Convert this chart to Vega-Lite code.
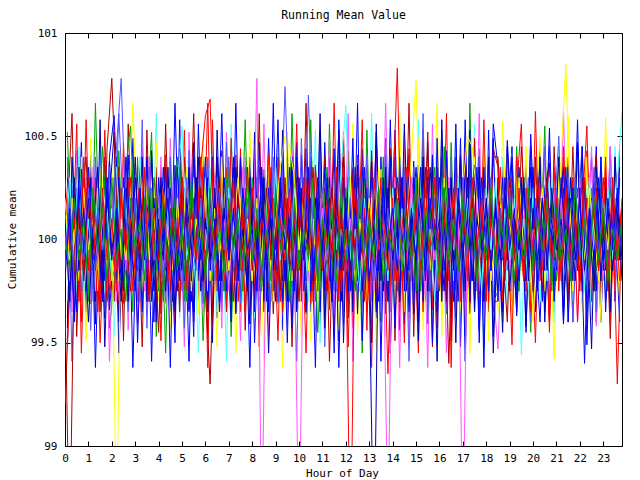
{
"$schema": "https://vega.github.io/schema/vega-lite/v6.json",
"width": 557, "height": 413,
"autosize": {"type": "none"},
"padding": {"left": 65, "top": 33, "right": 18, "bottom": 34},
"background": "white",
"config": {
 "view": {"stroke": "black", "strokeWidth": 1},
 "font": "DejaVu Sans Mono",
 "axis": {"domain": false, "grid": false, "tickColor": "black", "tickWidth": 1, "tickSize": -5, "labelColor": "black", "labelFont": "DejaVu Sans Mono", "labelFontSize": 11, "labelFlush": false, "labelOverlap": false, "titleFont": "DejaVu Sans Mono", "titleFontSize": 11, "titleFontWeight": "normal", "titleColor": "black"}
},
"title": {"text": "Running Mean Value", "font": "DejaVu Sans Mono", "fontSize": 11.5, "fontWeight": "normal", "color": "black", "offset": 6},
"datasets": {
"one": [
{"t":0,"a":99.2,"b":100.05,"c":99.9,"d":100.12,"e":99.95,"f":100.2,"g":99.7,"h":100.1,"i":99.85,"j":100.3,"k":99.8,"l":100.0},
{"t":0.2,"a":99.75,"b":100.25,"c":100.1,"d":99.8,"e":100.3,"f":99.9,"g":98.5,"h":99.7,"i":100.2,"j":99.95,"k":100.15,"l":99.85},
{"t":0.4,"a":100.1,"b":99.85,"c":99.65,"d":100.2,"e":99.9,"f":100.05,"g":99.95,"h":100.3,"i":99.75,"j":100.1,"k":99.6,"l":100.2},
{"t":0.6,"a":99.9,"b":100.4,"c":100.25,"d":99.95,"e":100.45,"f":99.8,"g":100.15,"h":99.85,"i":100.05,"j":99.7,"k":100.35,"l":99.9},
{"t":0.8,"a":100.3,"b":100.1,"c":99.8,"d":100.05,"e":99.7,"f":100.25,"g":99.8,"h":100.15,"i":99.9,"j":100.4,"k":99.95,"l":100.1},
{"t":1.0,"a":99.85,"b":99.7,"c":100.35,"d":99.75,"e":100.1,"f":99.95,"g":100.3,"h":99.6,"i":100.25,"j":99.85,"k":100.2,"l":99.75},
{"t":1.2,"a":100.2,"b":100.3,"c":99.95,"d":100.35,"e":99.85,"f":100.1,"g":99.9,"h":100.05,"i":99.7,"j":100.15,"k":99.85,"l":100.25},
{"t":1.4,"a":99.95,"b":99.9,"c":100.15,"d":99.85,"e":100.25,"f":99.75,"g":100.1,"h":100.35,"i":100.15,"j":99.65,"k":100.05,"l":99.95},
{"t":1.6,"a":100.15,"b":100.45,"c":99.7,"d":100.1,"e":99.95,"f":100.3,"g":99.75,"h":99.8,"i":99.95,"j":100.25,"k":99.7,"l":100.15},
{"t":1.8,"a":99.7,"b":100.05,"c":100.25,"d":99.9,"e":100.15,"f":99.85,"g":100.45,"h":100.2,"i":100.3,"j":99.9,"k":100.3,"l":99.8},
{"t":2.0,"a":100.05,"b":99.8,"c":99.9,"d":100.25,"e":99.8,"f":100.15,"g":100.78,"h":99.95,"i":100.05,"j":100.1,"k":99.9,"l":100.3},
{"t":2.2,"a":99.85,"b":100.2,"c":100.4,"d":99.7,"e":100.35,"f":98.6,"g":100.2,"h":100.1,"i":100.45,"j":99.75,"k":100.15,"l":99.9},
{"t":2.4,"a":100.25,"b":99.95,"c":99.75,"d":100.15,"e":99.9,"f":100.1,"g":99.85,"h":99.7,"i":100.78,"j":100.2,"k":99.8,"l":100.05},
{"t":2.6,"a":99.9,"b":100.35,"c":100.1,"d":99.85,"e":100.2,"f":99.9,"g":100.05,"h":100.25,"i":100.1,"j":99.95,"k":100.4,"l":99.7},
{"t":2.8,"a":100.1,"b":100.55,"c":99.85,"d":100.3,"e":99.75,"f":100.25,"g":99.75,"h":99.9,"i":99.85,"j":100.3,"k":100.0,"l":100.2},
{"t":3.0,"a":99.8,"b":100.0,"c":100.3,"d":99.95,"e":100.05,"f":99.8,"g":100.15,"h":100.4,"i":100.2,"j":99.8,"k":99.75,"l":99.95},
{"t":3.2,"a":100.35,"b":99.75,"c":99.95,"d":100.05,"e":100.4,"f":100.05,"g":99.9,"h":99.8,"i":99.7,"j":100.05,"k":100.25,"l":100.1},
{"t":3.4,"a":99.95,"b":100.2,"c":100.05,"d":99.75,"e":99.85,"f":100.35,"g":100.35,"h":100.05,"i":100.0,"j":100.35,"k":99.9,"l":99.8},
{"t":3.6,"a":100.15,"b":99.9,"c":99.7,"d":100.4,"e":100.1,"f":99.9,"g":99.7,"h":100.2,"i":100.35,"j":99.7,"k":100.1,"l":100.25},
{"t":3.8,"a":99.75,"b":100.3,"c":100.2,"d":99.9,"e":99.7,"f":100.15,"g":100.05,"h":99.75,"i":99.9,"j":100.15,"k":99.6,"l":100.0},
{"t":4.0,"a":100.05,"b":100.05,"c":99.85,"d":100.2,"e":100.3,"f":99.7,"g":99.55,"h":100.1,"i":100.15,"j":99.9,"k":100.3,"l":99.75},
{"t":4.2,"a":99.9,"b":99.7,"c":100.35,"d":99.85,"e":99.95,"f":100.25,"g":100.2,"h":99.9,"i":99.8,"j":100.25,"k":99.95,"l":100.2},
{"t":4.4,"a":100.3,"b":100.15,"c":99.9,"d":100.1,"e":100.15,"f":100.0,"g":99.85,"h":100.35,"i":100.25,"j":99.8,"k":100.2,"l":99.9},
{"t":4.6,"a":99.85,"b":99.95,"c":100.15,"d":99.7,"e":99.8,"f":99.85,"g":100.1,"h":99.7,"i":99.95,"j":100.1,"k":99.75,"l":100.15},
{"t":4.8,"a":100.1,"b":100.4,"c":99.75,"d":100.3,"e":100.25,"f":100.2,"g":99.95,"h":100.05,"i":100.1,"j":99.95,"k":100.35,"l":99.85},
{"t":5.0,"a":99.95,"b":100.1,"c":100.25,"d":99.95,"e":100.55,"f":99.9,"g":100.3,"h":99.85,"i":99.75,"j":100.3,"k":99.9,"l":100.05},
{"t":5.2,"a":100.25,"b":99.8,"c":100.0,"d":100.15,"e":99.9,"f":100.35,"g":99.8,"h":100.2,"i":100.3,"j":99.75,"k":100.15,"l":99.7},
{"t":5.4,"a":99.8,"b":100.25,"c":99.7,"d":99.85,"e":100.1,"f":99.75,"g":100.15,"h":99.95,"i":100.0,"j":100.15,"k":99.8,"l":100.3},
{"t":5.6,"a":100.05,"b":99.95,"c":100.3,"d":100.25,"e":99.75,"f":100.1,"g":99.9,"h":100.3,"i":99.85,"j":99.9,"k":100.25,"l":99.95},
{"t":5.8,"a":100.35,"b":100.15,"c":99.9,"d":99.8,"e":100.2,"f":99.95,"g":100.25,"h":99.75,"i":100.2,"j":100.4,"k":99.95,"l":100.1},
{"t":6.0,"a":100.6,"b":99.85,"c":100.1,"d":100.05,"e":99.95,"f":100.3,"g":99.75,"h":100.1,"i":99.9,"j":99.85,"k":100.4,"l":99.8},
{"t":6.2,"a":100.68,"b":100.3,"c":99.8,"d":99.9,"e":100.35,"f":99.8,"g":99.3,"h":99.9,"i":100.15,"j":100.1,"k":99.85,"l":100.25},
{"t":6.4,"a":99.9,"b":99.95,"c":100.2,"d":100.3,"e":99.85,"f":100.15,"g":100.05,"h":100.25,"i":99.8,"j":99.95,"k":100.1,"l":99.9},
{"t":6.6,"a":100.15,"b":100.1,"c":99.65,"d":99.95,"e":100.05,"f":99.9,"g":100.3,"h":99.8,"i":100.25,"j":100.2,"k":99.7,"l":100.05},
{"t":6.8,"a":99.75,"b":99.75,"c":100.15,"d":100.1,"e":99.8,"f":100.25,"g":99.9,"h":100.15,"i":99.95,"j":99.8,"k":100.3,"l":99.85},
{"t":7.0,"a":100.2,"b":100.35,"c":99.95,"d":99.75,"e":100.25,"f":99.85,"g":100.15,"h":99.9,"i":100.4,"j":100.05,"k":99.9,"l":100.2},
{"t":7.2,"a":99.95,"b":100.05,"c":100.4,"d":100.2,"e":99.9,"f":100.05,"g":99.7,"h":100.35,"i":99.85,"j":100.3,"k":100.15,"l":99.95},
{"t":7.4,"a":100.1,"b":99.8,"c":99.85,"d":99.9,"e":100.15,"f":100.3,"g":100.2,"h":99.85,"i":100.1,"j":99.7,"k":99.8,"l":100.1},
{"t":7.6,"a":99.85,"b":100.2,"c":100.05,"d":100.35,"e":99.7,"f":99.95,"g":99.95,"h":100.05,"i":99.75,"j":100.15,"k":100.25,"l":99.75},
{"t":7.8,"a":100.3,"b":99.9,"c":99.75,"d":100.0,"e":100.3,"f":100.1,"g":100.35,"h":99.75,"i":100.2,"j":99.9,"k":99.95,"l":100.3},
{"t":8.0,"a":99.9,"b":100.3,"c":100.25,"d":99.8,"e":99.95,"f":99.8,"g":99.85,"h":100.2,"i":99.95,"j":100.25,"k":100.05,"l":99.9},
{"t":8.2,"a":100.15,"b":100.0,"c":99.9,"d":100.78,"e":100.1,"f":100.2,"g":100.1,"h":99.95,"i":100.3,"j":99.85,"k":99.75,"l":100.15},
{"t":8.4,"a":99.8,"b":99.75,"c":100.15,"d":98.5,"e":99.85,"f":99.9,"g":99.8,"h":100.3,"i":99.8,"j":100.1,"k":100.35,"l":99.85},
{"t":8.6,"a":100.25,"b":100.15,"c":99.7,"d":100.05,"e":100.2,"f":100.25,"g":100.25,"h":99.85,"i":100.05,"j":99.95,"k":99.9,"l":100.05},
{"t":8.8,"a":99.95,"b":99.85,"c":100.3,"d":100.2,"e":99.75,"f":99.85,"g":99.9,"h":100.1,"i":99.7,"j":100.35,"k":100.2,"l":99.8},
{"t":9.0,"a":100.05,"b":100.25,"c":99.95,"d":99.85,"e":100.35,"f":100.1,"g":100.15,"h":99.7,"i":100.25,"j":99.75,"k":99.85,"l":100.25},
{"t":9.2,"a":99.7,"b":99.95,"c":100.1,"d":100.15,"e":99.9,"f":100.35,"g":99.75,"h":100.25,"i":100.0,"j":100.1,"k":100.3,"l":99.95},
{"t":9.4,"a":100.2,"b":100.1,"c":99.8,"d":99.9,"e":100.05,"f":100.5,"g":100.3,"h":99.95,"i":100.74,"j":99.9,"k":99.95,"l":100.1},
{"t":9.6,"a":99.9,"b":99.7,"c":100.35,"d":100.25,"e":99.8,"f":100.45,"g":99.85,"h":100.15,"i":100.1,"j":100.25,"k":100.1,"l":99.7},
{"t":9.8,"a":100.1,"b":100.3,"c":99.9,"d":99.95,"e":100.25,"f":100.3,"g":100.05,"h":99.8,"i":99.85,"j":99.8,"k":99.75,"l":100.2},
{"t":10.0,"a":99.85,"b":99.9,"c":100.2,"d":98.5,"e":99.95,"f":99.95,"g":99.7,"h":100.3,"i":100.2,"j":100.15,"k":100.25,"l":99.85},
{"t":10.2,"a":100.3,"b":100.15,"c":99.75,"d":100.1,"e":100.15,"f":100.2,"g":100.2,"h":99.9,"i":99.95,"j":99.95,"k":99.9,"l":100.05},
{"t":10.4,"a":99.95,"b":99.8,"c":100.05,"d":99.8,"e":99.7,"f":99.85,"g":99.95,"h":100.05,"i":100.7,"j":100.3,"k":100.35,"l":99.9},
{"t":10.6,"a":100.15,"b":100.2,"c":99.85,"d":100.3,"e":100.3,"f":100.1,"g":100.35,"h":99.75,"i":100.0,"j":99.7,"k":99.8,"l":100.3},
{"t":10.8,"a":99.75,"b":99.55,"c":100.3,"d":99.9,"e":99.85,"f":99.7,"g":99.8,"h":100.2,"i":99.8,"j":100.1,"k":100.15,"l":99.75},
{"t":11.0,"a":100.05,"b":100.05,"c":99.95,"d":100.15,"e":100.1,"f":100.25,"g":100.1,"h":99.85,"i":100.25,"j":99.85,"k":99.95,"l":100.1},
{"t":11.2,"a":99.9,"b":100.35,"c":100.15,"d":99.75,"e":99.8,"f":99.9,"g":99.75,"h":100.1,"i":99.9,"j":100.2,"k":100.3,"l":99.95},
{"t":11.4,"a":100.25,"b":99.85,"c":99.7,"d":100.05,"e":100.2,"f":100.15,"g":100.25,"h":99.95,"i":100.15,"j":99.9,"k":99.7,"l":100.15},
{"t":11.6,"a":99.8,"b":100.1,"c":100.25,"d":99.95,"e":99.95,"f":99.8,"g":99.9,"h":100.3,"i":99.75,"j":100.35,"k":100.1,"l":99.8},
{"t":11.8,"a":100.1,"b":99.75,"c":99.9,"d":100.25,"e":100.35,"f":100.05,"g":100.15,"h":99.7,"i":100.05,"j":99.75,"k":99.85,"l":100.25},
{"t":12.0,"a":99.95,"b":100.25,"c":100.1,"d":99.8,"e":100.65,"f":99.95,"g":99.8,"h":100.15,"i":99.9,"j":100.05,"k":100.2,"l":99.9},
{"t":12.2,"a":98.4,"b":99.9,"c":99.8,"d":100.1,"e":99.9,"f":100.3,"g":100.05,"h":99.85,"i":100.2,"j":99.8,"k":99.75,"l":100.05},
{"t":12.4,"a":100.2,"b":100.15,"c":100.35,"d":99.85,"e":100.05,"f":99.75,"g":99.95,"h":100.2,"i":99.85,"j":100.25,"k":100.15,"l":99.75},
{"t":12.6,"a":99.85,"b":99.8,"c":99.75,"d":100.2,"e":99.75,"f":100.1,"g":100.3,"h":99.9,"i":100.3,"j":99.9,"k":99.9,"l":100.2},
{"t":12.8,"a":100.05,"b":100.3,"c":100.2,"d":99.9,"e":100.2,"f":99.85,"g":99.7,"h":100.05,"i":99.95,"j":100.15,"k":100.35,"l":99.85},
{"t":13.0,"a":99.75,"b":99.95,"c":99.9,"d":100.15,"e":99.85,"f":100.2,"g":100.15,"h":99.8,"i":100.1,"j":99.7,"k":99.8,"l":100.1},
{"t":13.2,"a":100.3,"b":100.1,"c":100.15,"d":99.75,"e":100.3,"f":99.9,"g":99.85,"h":98.4,"i":99.8,"j":100.3,"k":100.05,"l":99.9},
{"t":13.4,"a":99.9,"b":99.85,"c":99.85,"d":100.05,"e":99.95,"f":100.35,"g":100.25,"h":100.1,"i":100.25,"j":99.95,"k":99.7,"l":100.25},
{"t":13.6,"a":100.15,"b":100.4,"c":100.3,"d":99.95,"e":100.1,"f":99.8,"g":99.9,"h":99.75,"i":99.9,"j":100.1,"k":100.25,"l":99.8},
{"t":13.8,"a":99.35,"b":99.7,"c":99.7,"d":98.6,"e":99.8,"f":100.1,"g":100.1,"h":100.25,"i":100.15,"j":99.85,"k":99.95,"l":100.05},
{"t":14.0,"a":100.2,"b":100.05,"c":100.1,"d":100.2,"e":100.25,"f":99.95,"g":99.75,"h":99.9,"i":99.75,"j":100.2,"k":100.15,"l":99.95},
{"t":14.2,"a":100.83,"b":99.8,"c":99.95,"d":99.85,"e":99.9,"f":100.25,"g":100.3,"h":100.05,"i":100.2,"j":99.75,"k":99.85,"l":100.2},
{"t":14.4,"a":99.8,"b":100.25,"c":100.25,"d":100.1,"e":100.15,"f":99.85,"g":99.95,"h":100.3,"i":99.95,"j":100.05,"k":100.3,"l":99.85},
{"t":14.6,"a":100.1,"b":99.95,"c":99.8,"d":99.8,"e":99.75,"f":100.1,"g":100.15,"h":99.8,"i":100.1,"j":100.35,"k":99.75,"l":100.1},
{"t":14.8,"a":99.9,"b":100.15,"c":100.05,"d":100.3,"e":100.2,"f":100.4,"g":99.8,"h":100.15,"i":99.8,"j":99.9,"k":100.1,"l":99.9},
{"t":15.0,"a":100.25,"b":99.75,"c":100.35,"d":99.95,"e":99.95,"f":100.77,"g":100.2,"h":99.9,"i":100.3,"j":100.15,"k":99.9,"l":100.3},
{"t":15.2,"a":99.85,"b":100.3,"c":99.9,"d":100.15,"e":100.3,"f":99.9,"g":99.9,"h":100.2,"i":99.9,"j":99.8,"k":100.35,"l":99.75},
{"t":15.4,"a":100.05,"b":99.9,"c":100.1,"d":99.7,"e":99.85,"f":100.2,"g":100.35,"h":99.85,"i":100.15,"j":100.25,"k":99.8,"l":100.15},
{"t":15.6,"a":99.75,"b":100.1,"c":99.75,"d":100.25,"e":100.05,"f":99.85,"g":99.75,"h":100.35,"i":99.75,"j":99.95,"k":100.2,"l":99.95},
{"t":15.8,"a":100.3,"b":100.35,"c":100.2,"d":99.9,"e":99.7,"f":100.15,"g":100.1,"h":99.95,"i":100.2,"j":100.3,"k":99.95,"l":100.05},
{"t":16.0,"a":99.95,"b":99.8,"c":99.85,"d":100.1,"e":100.25,"f":99.75,"g":99.85,"h":100.1,"i":99.85,"j":99.75,"k":100.3,"l":99.8},
{"t":16.2,"a":100.15,"b":100.45,"c":100.3,"d":99.85,"e":99.9,"f":100.3,"g":100.25,"h":99.75,"i":100.25,"j":100.1,"k":99.85,"l":100.25},
{"t":16.4,"a":99.8,"b":99.95,"c":99.95,"d":100.3,"e":100.15,"f":99.9,"g":99.4,"h":100.25,"i":99.95,"j":99.9,"k":100.15,"l":99.9},
{"t":16.6,"a":100.2,"b":100.2,"c":100.15,"d":99.95,"e":99.8,"f":100.1,"g":100.15,"h":99.85,"i":100.1,"j":100.25,"k":99.7,"l":100.1},
{"t":16.8,"a":99.9,"b":99.75,"c":99.7,"d":100.15,"e":100.3,"f":99.85,"g":99.8,"h":100.15,"i":99.8,"j":99.85,"k":100.25,"l":99.85},
{"t":17.0,"a":100.1,"b":100.1,"c":100.25,"d":98.5,"e":99.95,"f":100.25,"g":100.3,"h":99.9,"i":100.3,"j":100.15,"k":99.95,"l":100.2},
{"t":17.2,"a":99.85,"b":99.9,"c":99.9,"d":100.1,"e":100.2,"f":100.5,"g":99.95,"h":100.3,"i":99.9,"j":99.8,"k":100.1,"l":99.95},
{"t":17.4,"a":100.25,"b":100.25,"c":100.1,"d":99.85,"e":99.85,"f":100.45,"g":100.2,"h":99.8,"i":100.15,"j":100.3,"k":99.8,"l":100.15},
{"t":17.6,"a":99.95,"b":99.85,"c":99.8,"d":100.2,"e":100.1,"f":100.2,"g":99.85,"h":100.1,"i":99.75,"j":99.95,"k":100.35,"l":99.8},
{"t":17.8,"a":100.1,"b":100.15,"c":100.3,"d":99.9,"e":99.75,"f":99.9,"g":100.1,"h":99.95,"i":100.2,"j":100.2,"k":99.9,"l":100.05},
{"t":18.0,"a":99.7,"b":99.95,"c":99.95,"d":100.25,"e":100.25,"f":100.15,"g":99.75,"h":100.2,"i":99.95,"j":99.75,"k":100.15,"l":99.9},
{"t":18.2,"a":100.2,"b":100.3,"c":100.2,"d":99.8,"e":99.95,"f":99.8,"g":100.25,"h":99.85,"i":100.3,"j":100.1,"k":99.85,"l":100.25},
{"t":18.4,"a":99.9,"b":99.8,"c":99.75,"d":100.1,"e":100.3,"f":100.05,"g":99.9,"h":100.15,"i":99.85,"j":99.9,"k":100.2,"l":99.85},
{"t":18.6,"a":100.15,"b":100.05,"c":100.25,"d":99.95,"e":99.8,"f":100.25,"g":100.15,"h":99.9,"i":100.15,"j":100.35,"k":99.75,"l":100.1},
{"t":18.8,"a":99.85,"b":100.2,"c":99.9,"d":100.3,"e":100.15,"f":99.9,"g":99.8,"h":100.25,"i":99.9,"j":99.85,"k":100.3,"l":99.95},
{"t":19.0,"a":100.3,"b":99.9,"c":100.1,"d":99.85,"e":99.9,"f":100.1,"g":100.3,"h":99.75,"i":100.25,"j":100.15,"k":99.95,"l":100.2},
{"t":19.2,"a":99.95,"b":100.15,"c":99.8,"d":100.15,"e":100.2,"f":99.85,"g":99.9,"h":100.1,"i":99.8,"j":99.9,"k":100.15,"l":99.8},
{"t":19.4,"a":100.05,"b":99.75,"c":100.35,"d":99.9,"e":99.85,"f":100.3,"g":100.1,"h":99.95,"i":100.1,"j":100.25,"k":99.8,"l":100.05},
{"t":19.6,"a":99.8,"b":100.3,"c":99.95,"d":100.2,"e":100.1,"f":99.95,"g":99.85,"h":100.3,"i":99.95,"j":99.8,"k":100.25,"l":99.9},
{"t":19.8,"a":100.2,"b":99.95,"c":100.15,"d":99.8,"e":99.75,"f":100.2,"g":100.2,"h":99.8,"i":100.3,"j":100.1,"k":99.9,"l":100.25},
{"t":20.0,"a":99.9,"b":100.2,"c":99.85,"d":100.05,"e":100.25,"f":99.6,"g":99.75,"h":100.15,"i":99.85,"j":99.95,"k":100.35,"l":99.85},
{"t":20.2,"a":100.15,"b":99.85,"c":100.25,"d":99.95,"e":99.9,"f":100.05,"g":100.15,"h":99.9,"i":100.15,"j":100.3,"k":99.75,"l":100.1},
{"t":20.4,"a":99.75,"b":100.1,"c":99.7,"d":100.25,"e":100.15,"f":100.25,"g":99.95,"h":100.2,"i":99.9,"j":99.85,"k":100.2,"l":99.95},
{"t":20.6,"a":100.25,"b":99.9,"c":100.3,"d":99.85,"e":99.8,"f":99.9,"g":100.3,"h":99.85,"i":100.2,"j":100.15,"k":99.9,"l":100.2},
{"t":20.8,"a":99.95,"b":100.25,"c":99.9,"d":100.1,"e":100.3,"f":100.1,"g":99.8,"h":100.25,"i":99.8,"j":99.9,"k":100.1,"l":99.75},
{"t":21.0,"a":100.1,"b":99.8,"c":100.2,"d":99.9,"e":99.95,"f":99.85,"g":100.1,"h":99.95,"i":100.25,"j":100.2,"k":99.85,"l":100.15},
{"t":21.2,"a":99.85,"b":100.15,"c":99.95,"d":100.2,"e":100.1,"f":100.4,"g":99.9,"h":100.1,"i":99.95,"j":99.8,"k":100.3,"l":99.9},
{"t":21.4,"a":100.3,"b":99.95,"c":100.35,"d":99.8,"e":99.8,"f":100.85,"g":100.25,"h":99.8,"i":100.15,"j":100.25,"k":99.95,"l":100.05},
{"t":21.6,"a":99.9,"b":100.3,"c":99.8,"d":100.15,"e":100.25,"f":100.1,"g":99.85,"h":100.3,"i":99.85,"j":99.95,"k":100.2,"l":99.8},
{"t":21.8,"a":100.05,"b":99.85,"c":100.1,"d":99.9,"e":99.9,"f":99.85,"g":100.15,"h":99.9,"i":100.3,"j":100.1,"k":99.8,"l":100.25},
{"t":22.0,"a":99.8,"b":100.2,"c":99.9,"d":100.3,"e":100.15,"f":100.15,"g":99.8,"h":100.2,"i":99.9,"j":99.75,"k":100.25,"l":99.95},
{"t":22.2,"a":100.25,"b":99.9,"c":100.25,"d":99.85,"e":99.75,"f":99.9,"g":100.3,"h":99.85,"i":100.15,"j":100.3,"k":99.4,"l":100.1},
{"t":22.4,"a":99.95,"b":100.1,"c":99.85,"d":100.1,"e":100.3,"f":100.25,"g":99.95,"h":100.1,"i":99.8,"j":99.9,"k":100.15,"l":99.85},
{"t":22.6,"a":100.15,"b":99.75,"c":100.3,"d":99.95,"e":99.95,"f":100.05,"g":100.2,"h":99.75,"i":100.35,"j":100.2,"k":99.9,"l":100.2},
{"t":22.8,"a":99.85,"b":100.25,"c":99.95,"d":100.25,"e":100.2,"f":99.8,"g":99.85,"h":100.25,"i":99.9,"j":99.85,"k":100.3,"l":99.9},
{"t":23.0,"a":100.3,"b":99.95,"c":100.15,"d":99.8,"e":99.85,"f":100.2,"g":100.1,"h":99.9,"i":100.2,"j":100.15,"k":99.85,"l":100.15},
{"t":23.2,"a":99.9,"b":100.15,"c":99.8,"d":100.15,"e":100.25,"f":99.95,"g":99.75,"h":100.15,"i":99.85,"j":99.8,"k":100.2,"l":99.8},
{"t":23.4,"a":100.2,"b":99.85,"c":100.25,"d":99.9,"e":99.9,"f":100.3,"g":100.25,"h":99.85,"i":100.3,"j":100.3,"k":99.95,"l":100.05},
{"t":23.6,"a":99.3,"b":100.2,"c":99.9,"d":100.2,"e":100.3,"f":99.9,"g":99.9,"h":100.2,"i":99.95,"j":99.9,"k":100.25,"l":99.9},
{"t":23.8,"a":100.1,"b":99.9,"c":100.15,"d":99.85,"e":100.62,"f":100.15,"g":100.15,"h":99.8,"i":100.1,"j":100.2,"k":99.9,"l":100.1}
],
"two": [
{"t":0.1,"m":100.35,"n":99.62,"o":100.52,"p":99.8,"q":100.2,"r":99.48,"s":100.1,"u":100.4,"v":99.7,"w":100.0,"x":99.57,"y":100.3},
{"t":0.3,"m":99.75,"n":100.3,"o":99.9,"p":100.38,"q":99.65,"r":100.15,"s":100.61,"u":99.41,"v":100.2,"w":99.85,"x":100.4,"y":100.05},
{"t":0.5,"m":100.2,"n":99.66,"o":100.35,"p":99.7,"q":100.43,"r":99.9,"s":99.53,"u":100.25,"v":99.8,"w":100.56,"x":99.95,"y":99.65},
{"t":0.7,"m":99.6,"n":100.15,"o":99.75,"p":100.3,"q":99.85,"r":100.47,"s":100.2,"u":99.7,"v":100.4,"w":99.45,"x":100.1,"y":100.34},
{"t":0.9,"m":100.58,"n":99.85,"o":100.2,"p":99.64,"q":100.3,"r":99.65,"s":100.4,"u":100.1,"v":99.51,"w":100.25,"x":99.75,"y":99.9},
{"t":1.1,"m":99.8,"n":100.41,"o":99.69,"p":100.1,"q":99.7,"r":100.35,"s":99.85,"u":99.56,"v":100.49,"w":99.9,"x":100.3,"y":100.2},
{"t":1.3,"m":100.25,"n":99.7,"o":100.66,"p":99.9,"q":100.36,"r":99.38,"s":100.15,"u":100.4,"v":99.75,"w":100.3,"x":99.59,"y":99.85},
{"t":1.5,"m":99.5,"n":100.2,"o":99.85,"p":100.44,"q":99.95,"r":100.25,"s":99.65,"u":100.0,"v":100.35,"w":99.7,"x":100.58,"y":100.1},
{"t":1.7,"m":100.1,"n":99.62,"o":100.3,"p":99.75,"q":100.4,"r":99.8,"s":100.4,"u":99.65,"v":99.9,"w":100.53,"x":99.48,"y":100.3},
{"t":1.9,"m":99.7,"n":100.4,"o":99.57,"p":100.25,"q":99.41,"r":100.38,"s":99.9,"u":100.35,"v":100.1,"w":99.75,"x":100.2,"y":99.66},
{"t":2.1,"m":100.3,"n":100.6,"o":99.8,"p":99.53,"q":100.15,"r":100.05,"s":99.7,"u":99.9,"v":100.4,"w":99.85,"x":100.52,"y":99.95},
{"t":2.3,"m":99.65,"n":100.05,"o":100.43,"p":100.2,"q":99.75,"r":99.6,"s":100.35,"u":100.61,"v":99.8,"w":100.1,"x":99.45,"y":100.3},
{"t":2.5,"m":100.47,"n":99.8,"o":99.9,"p":99.64,"q":100.4,"r":100.3,"s":99.51,"u":100.1,"v":100.25,"w":99.69,"x":100.05,"y":99.75},
{"t":2.7,"m":99.85,"n":100.35,"o":100.2,"p":100.34,"q":99.56,"r":99.75,"s":100.56,"u":99.65,"v":99.9,"w":100.3,"x":99.7,"y":100.41},
{"t":2.9,"m":100.1,"n":99.38,"o":99.65,"p":99.8,"q":100.3,"r":100.49,"s":99.9,"u":100.35,"v":100.66,"w":99.75,"x":100.2,"y":99.85},
{"t":3.1,"m":99.59,"n":100.25,"o":100.4,"p":100.15,"q":99.8,"r":99.5,"s":100.2,"u":99.7,"v":100.05,"w":100.36,"x":99.85,"y":100.3},
{"t":3.3,"m":100.35,"n":99.9,"o":99.7,"p":99.62,"q":100.44,"r":100.2,"s":99.48,"u":100.58,"v":99.75,"w":99.85,"x":100.4,"y":99.65},
{"t":3.5,"m":99.8,"n":100.4,"o":100.1,"p":100.35,"q":99.65,"r":99.9,"s":100.53,"u":99.57,"v":100.3,"w":100.15,"x":99.7,"y":100.4},
{"t":3.7,"m":100.2,"n":99.41,"o":100.52,"p":99.75,"q":100.1,"r":100.4,"s":99.8,"u":100.25,"v":99.66,"w":99.9,"x":100.43,"y":99.7},
{"t":3.9,"m":99.65,"n":100.3,"o":99.53,"p":100.61,"q":99.85,"r":99.7,"s":100.35,"u":99.9,"v":100.47,"w":100.2,"x":99.6,"y":100.15},
{"t":4.1,"m":100.34,"n":99.75,"o":100.2,"p":99.65,"q":100.4,"r":100.25,"s":99.64,"u":100.05,"v":99.8,"w":99.51,"x":100.3,"y":99.95},
{"t":4.3,"m":99.9,"n":100.1,"o":99.45,"p":100.3,"q":99.69,"r":99.85,"s":100.56,"u":99.7,"v":100.2,"w":100.41,"x":99.75,"y":100.35},
{"t":4.5,"m":100.15,"n":99.65,"o":100.35,"p":99.9,"q":100.49,"r":100.1,"s":99.75,"u":100.4,"v":99.56,"w":99.8,"x":100.25,"y":99.38},
{"t":4.7,"m":99.59,"n":100.66,"o":99.8,"p":100.2,"q":99.7,"r":99.5,"s":100.15,"u":99.85,"v":100.35,"w":100.3,"x":99.65,"y":100.36},
{"t":4.9,"m":100.4,"n":99.85,"o":100.44,"p":99.62,"q":100.25,"r":100.58,"s":99.65,"u":100.3,"v":99.9,"w":99.7,"x":100.1,"y":99.8},
{"t":5.1,"m":99.75,"n":100.2,"o":99.7,"p":100.4,"q":99.48,"r":99.8,"s":100.4,"u":99.57,"v":100.15,"w":100.53,"x":99.9,"y":100.25},
{"t":5.3,"m":100.3,"n":99.41,"o":100.25,"p":99.85,"q":100.52,"r":100.15,"s":99.9,"u":100.43,"v":99.7,"w":99.66,"x":100.35,"y":99.65},
{"t":5.5,"m":99.6,"n":100.4,"o":99.9,"p":100.1,"q":99.8,"r":99.53,"s":100.61,"u":99.75,"v":100.3,"w":100.2,"x":99.65,"y":100.47},
{"t":5.7,"m":100.2,"n":99.8,"o":100.34,"p":99.45,"q":100.35,"r":100.56,"s":99.7,"u":100.15,"v":99.64,"w":99.9,"x":100.4,"y":99.85},
{"t":5.9,"m":99.85,"n":100.41,"o":99.51,"p":100.3,"q":99.65,"r":99.75,"s":100.2,"u":99.69,"v":100.49,"w":100.35,"x":99.8,"y":100.1},
{"t":6.1,"m":100.66,"n":99.7,"o":100.15,"p":99.9,"q":100.36,"r":100.25,"s":99.56,"u":100.4,"v":99.75,"w":99.38,"x":100.3,"y":99.65},
{"t":6.3,"m":99.59,"n":100.25,"o":99.8,"p":100.44,"q":99.7,"r":99.9,"s":100.35,"u":99.85,"v":100.1,"w":100.58,"x":99.5,"y":100.4},
{"t":6.5,"m":100.1,"n":99.62,"o":100.4,"p":99.65,"q":100.2,"r":100.4,"s":99.8,"u":100.3,"v":99.48,"w":99.75,"x":100.53,"y":99.9},
{"t":6.7,"m":99.7,"n":100.35,"o":99.65,"p":100.2,"q":99.57,"r":99.85,"s":100.43,"u":99.7,"v":100.4,"w":100.15,"x":99.8,"y":100.61},
{"t":6.9,"m":100.35,"n":99.9,"o":100.3,"p":99.41,"q":100.52,"r":100.1,"s":99.65,"u":100.47,"v":99.85,"w":99.66,"x":100.2,"y":99.75},
{"t":7.1,"m":99.9,"n":100.34,"o":99.53,"p":100.56,"q":99.8,"r":99.6,"s":100.25,"u":99.75,"v":100.35,"w":100.49,"x":99.7,"y":100.2},
{"t":7.3,"m":100.41,"n":99.65,"o":100.2,"p":99.85,"q":100.3,"r":100.66,"s":99.9,"u":100.1,"v":99.45,"w":99.8,"x":100.35,"y":99.64},
{"t":7.5,"m":99.65,"n":100.3,"o":99.85,"p":100.35,"q":99.51,"r":99.7,"s":100.36,"u":99.69,"v":100.2,"w":100.44,"x":99.9,"y":100.4},
{"t":7.7,"m":100.25,"n":99.8,"o":100.58,"p":99.7,"q":100.4,"r":100.2,"s":99.56,"u":100.35,"v":99.75,"w":99.65,"x":100.1,"y":99.85},
{"t":7.9,"m":99.8,"n":100.4,"o":99.7,"p":100.25,"q":99.65,"r":99.38,"s":100.3,"u":99.9,"v":100.53,"w":100.25,"x":99.59,"y":100.3},
{"t":8.1,"m":100.4,"n":99.5,"o":100.35,"p":99.62,"q":100.15,"r":100.4,"s":99.75,"u":100.43,"v":99.85,"w":99.7,"x":100.52,"y":99.65},
{"t":8.3,"m":99.48,"n":100.2,"o":99.85,"p":100.4,"q":99.7,"r":99.8,"s":100.61,"u":99.57,"v":100.25,"w":100.35,"x":99.75,"y":100.47},
{"t":8.5,"m":100.3,"n":99.75,"o":100.34,"p":99.8,"q":100.56,"r":100.15,"s":99.65,"u":100.2,"v":99.41,"w":99.9,"x":100.3,"y":99.7},
{"t":8.7,"m":99.75,"n":100.49,"o":99.66,"p":100.15,"q":99.53,"r":99.65,"s":100.35,"u":99.8,"v":100.4,"w":100.41,"x":99.45,"y":100.25},
{"t":8.9,"m":100.2,"n":99.85,"o":100.3,"p":99.65,"q":100.35,"r":100.66,"s":99.64,"u":100.4,"v":99.7,"w":99.75,"x":100.15,"y":99.9},
{"t":9.1,"m":99.51,"n":100.3,"o":99.75,"p":100.44,"q":99.85,"r":99.7,"s":100.2,"u":99.69,"v":100.3,"w":100.4,"x":99.85,"y":100.58},
{"t":9.3,"m":100.36,"n":99.56,"o":100.4,"p":99.8,"q":100.2,"r":100.3,"s":99.8,"u":100.35,"v":99.38,"w":99.65,"x":100.53,"y":99.7},
{"t":9.5,"m":99.85,"n":100.4,"o":99.65,"p":100.3,"q":99.59,"r":99.5,"s":100.4,"u":99.75,"v":100.52,"w":100.2,"x":99.7,"y":100.15},
{"t":9.7,"m":100.3,"n":99.7,"o":100.61,"p":99.62,"q":100.43,"r":100.4,"s":99.48,"u":100.2,"v":99.8,"w":99.85,"x":100.35,"y":99.57},
{"t":9.9,"m":99.65,"n":100.47,"o":99.85,"p":100.34,"q":99.75,"r":99.65,"s":100.3,"u":99.41,"v":100.15,"w":100.56,"x":99.66,"y":100.4},
{"t":10.1,"m":100.15,"n":99.8,"o":100.2,"p":99.7,"q":100.35,"r":100.41,"s":99.75,"u":100.49,"v":99.53,"w":99.7,"x":100.25,"y":99.85},
{"t":10.3,"m":99.45,"n":100.35,"o":99.64,"p":100.2,"q":99.65,"r":99.8,"s":100.66,"u":99.85,"v":100.4,"w":100.3,"x":99.65,"y":100.44},
{"t":10.5,"m":100.38,"n":99.65,"o":100.58,"p":99.85,"q":100.4,"r":100.2,"s":99.7,"u":100.1,"v":99.51,"w":99.69,"x":100.4,"y":99.75},
{"t":10.7,"m":99.8,"n":100.25,"o":99.7,"p":100.53,"q":99.56,"r":99.38,"s":100.35,"u":99.7,"v":100.3,"w":100.36,"x":99.8,"y":100.2},
{"t":10.9,"m":100.25,"n":99.59,"o":100.35,"p":99.5,"q":100.2,"r":100.52,"s":99.85,"u":100.43,"v":99.75,"w":99.8,"x":100.61,"y":99.65},
{"t":11.1,"m":99.7,"n":100.47,"o":99.62,"p":100.3,"q":99.8,"r":99.75,"s":100.4,"u":99.48,"v":100.34,"w":100.25,"x":99.57,"y":100.35},
{"t":11.3,"m":100.4,"n":99.75,"o":100.56,"p":99.7,"q":100.49,"r":100.3,"s":99.41,"u":100.25,"v":99.65,"w":99.66,"x":100.2,"y":99.8},
{"t":11.5,"m":99.53,"n":100.3,"o":99.8,"p":100.41,"q":99.64,"r":99.45,"s":100.2,"u":99.75,"v":100.35,"w":100.66,"x":99.9,"y":100.44},
{"t":11.7,"m":100.35,"n":99.51,"o":100.25,"p":99.69,"q":100.3,"r":100.58,"s":99.75,"u":100.38,"v":99.56,"w":99.7,"x":100.53,"y":99.38},
{"t":11.9,"m":99.75,"n":100.4,"o":99.65,"p":100.25,"q":99.7,"r":99.85,"s":100.52,"u":99.59,"v":100.2,"w":100.35,"x":99.5,"y":100.3},
{"t":12.1,"m":100.2,"n":99.7,"o":100.43,"p":99.8,"q":100.61,"r":100.3,"s":99.62,"u":100.35,"v":99.85,"w":99.48,"x":100.3,"y":99.75},
{"t":12.3,"m":99.57,"n":100.35,"o":99.75,"p":100.47,"q":99.41,"r":99.7,"s":100.34,"u":99.8,"v":100.56,"w":100.25,"x":99.65,"y":100.49},
{"t":12.5,"m":100.41,"n":99.66,"o":100.3,"p":99.65,"q":100.25,"r":100.66,"s":99.8,"u":100.2,"v":99.53,"w":99.85,"x":100.36,"y":99.64},
{"t":12.7,"m":99.7,"n":100.44,"o":99.45,"p":100.3,"q":99.75,"r":99.51,"s":100.3,"u":99.65,"v":100.35,"w":100.58,"x":99.75,"y":100.35},
{"t":12.9,"m":100.3,"n":99.8,"o":100.53,"p":99.69,"q":100.4,"r":100.25,"s":99.65,"u":100.4,"v":99.7,"w":99.56,"x":100.2,"y":99.85},
{"t":13.1,"m":99.38,"n":100.3,"o":99.7,"p":100.61,"q":99.59,"r":99.8,"s":100.43,"u":99.75,"v":100.2,"w":100.4,"x":99.5,"y":100.38},
{"t":13.3,"m":100.47,"n":99.62,"o":100.35,"p":99.75,"q":100.35,"r":100.52,"s":99.7,"u":100.3,"v":99.48,"w":99.7,"x":100.56,"y":99.65},
{"t":13.5,"m":99.85,"n":100.4,"o":99.6,"p":100.2,"q":99.65,"r":99.41,"s":100.25,"u":99.66,"v":100.34,"w":100.3,"x":99.8,"y":100.2},
{"t":13.7,"m":100.25,"n":99.65,"o":100.41,"p":99.53,"q":100.66,"r":100.35,"s":99.8,"u":100.49,"v":99.75,"w":99.64,"x":100.35,"y":99.7},
{"t":13.9,"m":99.65,"n":100.58,"o":99.75,"p":100.4,"q":99.7,"r":99.85,"s":100.44,"u":99.65,"v":100.3,"w":100.36,"x":99.45,"y":100.4},
{"t":14.1,"m":100.4,"n":99.75,"o":100.25,"p":99.65,"q":100.3,"r":100.53,"s":99.51,"u":100.25,"v":99.69,"w":99.8,"x":100.25,"y":99.57},
{"t":14.3,"m":99.56,"n":100.3,"o":99.65,"p":100.43,"q":99.38,"r":99.7,"s":100.35,"u":99.75,"v":100.61,"w":100.2,"x":99.7,"y":100.4},
{"t":14.5,"m":100.35,"n":99.59,"o":100.47,"p":99.8,"q":100.52,"r":100.2,"s":99.75,"u":100.34,"v":99.65,"w":99.5,"x":100.56,"y":99.75},
{"t":14.7,"m":99.75,"n":100.41,"o":99.62,"p":100.25,"q":99.48,"r":99.65,"s":100.66,"u":99.41,"v":100.3,"w":100.44,"x":99.85,"y":100.3},
{"t":14.9,"m":100.2,"n":99.7,"o":100.3,"p":99.66,"q":100.35,"r":100.38,"s":99.53,"u":100.35,"v":99.75,"w":99.75,"x":100.3,"y":99.64},
{"t":15.1,"m":99.45,"n":100.35,"o":99.8,"p":100.58,"q":99.75,"r":99.6,"s":100.3,"u":99.7,"v":100.49,"w":100.35,"x":99.51,"y":100.36},
{"t":15.3,"m":100.53,"n":99.69,"o":100.43,"p":99.7,"q":100.25,"r":100.35,"s":99.85,"u":100.61,"v":99.56,"w":99.65,"x":100.4,"y":99.7},
{"t":15.5,"m":99.7,"n":100.47,"o":99.65,"p":100.35,"q":99.38,"r":99.75,"s":100.52,"u":99.59,"v":100.25,"w":100.34,"x":99.75,"y":100.3},
{"t":15.7,"m":100.3,"n":99.65,"o":100.4,"p":99.62,"q":100.56,"r":100.41,"s":99.48,"u":100.3,"v":99.85,"w":99.66,"x":100.35,"y":99.5},
{"t":15.9,"m":99.57,"n":100.4,"o":99.7,"p":100.44,"q":99.7,"r":99.65,"s":100.35,"u":99.75,"v":100.66,"w":100.3,"x":99.41,"y":100.49},
{"t":16.1,"m":100.4,"n":99.8,"o":100.38,"p":99.65,"q":100.3,"r":100.4,"s":99.7,"u":100.53,"v":99.53,"w":99.75,"x":100.58,"y":99.7},
{"t":16.3,"m":99.65,"n":100.43,"o":99.64,"p":100.3,"q":99.45,"r":99.69,"s":100.4,"u":99.65,"v":100.35,"w":100.61,"x":99.7,"y":100.4},
{"t":16.5,"m":100.35,"n":99.51,"o":100.47,"p":99.75,"q":100.36,"r":100.3,"s":99.56,"u":100.4,"v":99.7,"w":99.38,"x":100.3,"y":99.65},
{"t":16.7,"m":99.7,"n":100.35,"o":99.75,"p":100.52,"q":99.65,"r":99.75,"s":100.4,"u":99.62,"v":100.44,"w":100.4,"x":99.5,"y":100.56},
{"t":16.9,"m":100.41,"n":99.7,"o":100.35,"p":99.59,"q":100.4,"r":100.49,"s":99.75,"u":100.34,"v":99.65,"w":99.7,"x":100.4,"y":99.48},
{"t":17.1,"m":99.66,"n":100.58,"o":99.53,"p":100.35,"q":99.57,"r":99.41,"s":100.3,"u":99.7,"v":100.35,"w":100.43,"x":99.75,"y":100.4},
{"t":17.3,"m":100.4,"n":99.65,"o":100.66,"p":99.8,"q":100.4,"r":100.38,"s":99.64,"u":100.47,"v":99.45,"w":99.69,"x":100.53,"y":99.7},
{"t":17.5,"m":99.75,"n":100.4,"o":99.7,"p":100.56,"q":99.7,"r":99.7,"s":100.49,"u":99.65,"v":100.4,"w":100.35,"x":99.65,"y":100.36},
{"t":17.7,"m":100.3,"n":99.5,"o":100.44,"p":99.65,"q":100.61,"r":100.4,"s":99.7,"u":100.4,"v":99.75,"w":99.65,"x":100.35,"y":99.56},
{"t":17.9,"m":99.62,"n":100.4,"o":99.48,"p":100.52,"q":99.59,"r":99.38,"s":100.41,"u":99.66,"v":100.47,"w":100.58,"x":99.7,"y":100.35},
{"t":18.1,"m":100.34,"n":99.75,"o":100.4,"p":99.7,"q":100.35,"r":100.53,"s":99.65,"u":100.43,"v":99.51,"w":99.7,"x":100.4,"y":99.75},
{"t":18.3,"m":99.7,"n":100.56,"o":99.65,"p":100.4,"q":99.75,"r":99.53,"s":100.4,"u":99.7,"v":100.35,"w":100.44,"x":99.45,"y":100.49},
{"t":18.5,"m":99.7,"n":100.35,"o":100.05,"p":99.95,"q":99.47,"r":100.3,"s":100.4,"u":99.75,"v":99.65,"w":100.35,"x":100.1,"y":99.7},
{"t":18.7,"m":100.35,"n":99.9,"o":99.6,"p":100.4,"q":100.05,"r":99.65,"s":99.95,"u":100.2,"v":100.57,"w":99.7,"x":99.55,"y":100.3},
{"t":18.9,"m":99.95,"n":100.48,"o":100.3,"p":99.65,"q":100.4,"r":100.1,"s":99.6,"u":99.85,"v":99.95,"w":100.1,"x":100.45,"y":99.9},
{"t":19.1,"m":99.6,"n":100.05,"o":99.75,"p":100.1,"q":99.7,"r":100.45,"s":100.3,"u":100.42,"v":99.6,"w":99.49,"x":99.95,"y":100.4},
{"t":19.3,"m":100.25,"n":99.65,"o":100.45,"p":100.35,"q":100.2,"r":99.75,"s":99.8,"u":99.65,"v":100.3,"w":100.4,"x":99.7,"y":99.63},
{"t":19.5,"m":100.56,"n":100.3,"o":99.85,"p":99.44,"q":99.9,"r":100.2,"s":100.45,"u":100.05,"v":99.85,"w":99.9,"x":100.3,"y":100.15},
{"t":19.7,"m":99.75,"n":99.8,"o":100.1,"p":100.25,"q":100.39,"r":99.55,"s":100.05,"u":100.35,"v":100.45,"w":100.25,"x":99.58,"y":99.8},
{"t":19.9,"m":100.1,"n":100.51,"o":99.55,"p":99.8,"q":99.65,"r":100.35,"s":99.7,"u":99.6,"v":99.7,"w":99.65,"x":100.2,"y":100.45},
{"t":20.1,"m":99.5,"n":99.95,"o":100.35,"p":100.43,"q":100.15,"r":99.9,"s":100.4,"u":100.2,"v":100.1,"w":100.62,"x":99.85,"y":99.65},
{"t":20.3,"m":100.3,"n":99.6,"o":99.9,"p":99.7,"q":99.85,"r":100.46,"s":99.85,"u":99.9,"v":100.5,"w":99.8,"x":100.4,"y":100.2},
{"t":20.5,"m":99.85,"n":100.25,"o":100.55,"p":100.05,"q":100.4,"r":99.65,"s":100.15,"u":100.45,"v":99.75,"w":100.2,"x":99.6,"y":99.85},
{"t":20.7,"m":100.45,"n":100.37,"o":99.7,"p":100.3,"q":99.61,"r":100.15,"s":99.6,"u":99.7,"v":100.2,"w":99.55,"x":100.15,"y":100.54},
{"t":20.9,"m":99.65,"n":99.75,"o":100.2,"p":99.6,"q":100.25,"r":99.8,"s":100.45,"u":100.1,"v":99.42,"w":100.35,"x":99.9,"y":99.7},
{"t":21.1,"m":100.15,"n":100.2,"o":99.8,"p":100.45,"q":99.8,"r":100.4,"s":99.9,"u":100.5,"v":100.35,"w":99.75,"x":100.4,"y":100.1},
{"t":21.3,"m":99.9,"n":99.59,"o":100.4,"p":99.85,"q":100.63,"r":99.6,"s":100.25,"u":99.75,"v":99.9,"w":100.45,"x":99.65,"y":100.35},
{"t":21.5,"m":100.4,"n":100.35,"o":99.6,"p":100.2,"q":99.7,"r":100.25,"s":99.7,"u":100.3,"v":100.6,"w":99.9,"x":100.2,"y":99.6},
{"t":21.7,"m":99.6,"n":99.9,"o":100.15,"p":99.7,"q":100.3,"r":99.85,"s":100.45,"u":99.6,"v":99.75,"w":100.3,"x":99.8,"y":100.25},
{"t":21.9,"m":100.25,"n":100.47,"o":99.95,"p":100.4,"q":99.6,"r":100.58,"s":99.85,"u":100.15,"v":100.2,"w":99.6,"x":100.45,"y":99.85},
{"t":22.1,"m":99.8,"n":99.7,"o":100.45,"p":99.9,"q":100.2,"r":99.7,"s":100.3,"u":100.45,"v":99.65,"w":100.15,"x":99.75,"y":100.45},
{"t":22.3,"m":100.43,"n":100.1,"o":99.65,"p":100.25,"q":99.85,"r":100.2,"s":99.6,"u":99.8,"v":100.4,"w":100.55,"x":100.1,"y":99.49},
{"t":22.5,"m":99.95,"n":100.4,"o":100.2,"p":99.61,"q":100.45,"r":99.9,"s":100.15,"u":100.25,"v":99.85,"w":99.7,"x":99.47,"y":100.2},
{"t":22.7,"m":100.2,"n":99.6,"o":99.85,"p":100.35,"q":99.58,"r":100.45,"s":100.41,"u":99.65,"v":100.3,"w":100.25,"x":100.35,"y":99.75},
{"t":22.9,"m":99.6,"n":100.25,"o":100.35,"p":99.8,"q":100.15,"r":99.6,"s":99.75,"u":100.4,"v":99.6,"w":99.85,"x":99.8,"y":100.4},
{"t":23.1,"m":100.35,"n":99.85,"o":99.7,"p":100.15,"q":99.9,"r":100.3,"s":100.2,"u":99.9,"v":100.59,"w":100.4,"x":100.25,"y":99.65},
{"t":23.3,"m":99.85,"n":100.45,"o":100.25,"p":99.65,"q":100.45,"r":99.8,"s":99.52,"u":100.3,"v":99.8,"w":99.6,"x":99.65,"y":100.15},
{"t":23.5,"m":100.1,"n":99.7,"o":99.9,"p":100.45,"q":99.75,"r":100.1,"s":100.4,"u":99.75,"v":100.15,"w":100.2,"x":100.4,"y":99.9},
{"t":23.7,"m":99.7,"n":100.3,"o":100.4,"p":99.95,"q":100.2,"r":99.6,"s":99.9,"u":100.46,"v":99.7,"w":99.8,"x":99.9,"y":100.35}
],
"frame": [{"t": 0, "val": 99}, {"t": 23.8, "val": 101}]
},
"layer": [
 {"data": {"name": "two"},
  "transform": [{"fold": ["m","n","o","p","q","r","s","u","v","w","x","y"], "as": ["ser","val"]}],
  "mark": {"type": "line", "strokeWidth": 1, "clip": true},
  "encoding": {
   "x": {"field": "t", "type": "quantitative", "scale": {"domain": [0, 23.8], "nice": false, "zero": false},
         "axis": {"orient": "bottom", "values": [0,1,2,3,4,5,6,7,8,9,10,11,12,13,14,15,16,17,18,19,20,21,22,23], "format": "d", "labelPadding": 11, "title": "Hour of Day", "titleX": 277, "titleY": 27, "titleBaseline": "middle"}},
   "y": {"field": "val", "type": "quantitative", "scale": {"domain": [99, 101], "nice": false, "zero": false},
         "axis": {"orient": "left", "values": [99, 99.5, 100, 100.5, 101], "format": "~g", "labelPadding": 13, "title": "Cumulative mean", "titleX": -53, "titleY": 206, "titleAngle": -90, "titleBaseline": "middle"}},
   "color": {"field": "ser", "type": "nominal", "legend": null,
     "scale": {"domain": ["a","b","c","d","e","f","g","h","i","j","k","l","m","n","o","p","q","r","s","u","v","w","x","y"],
               "range": ["#ff0000","#00a000","#0000ff","#ff55ff","#55ffff","#ffff00","#b00000","#0000b0","#5555ff","#ff0000","#0000ff","#00a000","#ff0000","#0000ff","#00a000","#55ffff","#ff55ff","#0000ff","#b00000","#5555ff","#ffff00","#ff0000","#0000b0","#0000ff"]}}
  }},
 {"data": {"name": "one"},
  "transform": [{"fold": ["a","b","c","d","e","f","g","h","i","j","k","l"], "as": ["ser","val"]}],
  "mark": {"type": "line", "strokeWidth": 1, "clip": true},
  "encoding": {
   "x": {"field": "t", "type": "quantitative", "axis": null},
   "y": {"field": "val", "type": "quantitative", "axis": null},
   "color": {"field": "ser", "type": "nominal", "legend": null}
  }},
 {"data": {"name": "frame"},
  "mark": {"type": "point", "opacity": 0},
  "encoding": {
   "x": {"field": "t", "type": "quantitative", "axis": {"orient": "top", "values": [0,1,2,3,4,5,6,7,8,9,10,11,12,13,14,15,16,17,18,19,20,21,22,23], "labels": false, "title": null}},
   "y": {"field": "val", "type": "quantitative", "axis": {"orient": "right", "values": [99, 99.5, 100, 100.5, 101], "labels": false, "title": null}}
  }}
],
"resolve": {"axis": {"x": "independent", "y": "independent"}}
}
